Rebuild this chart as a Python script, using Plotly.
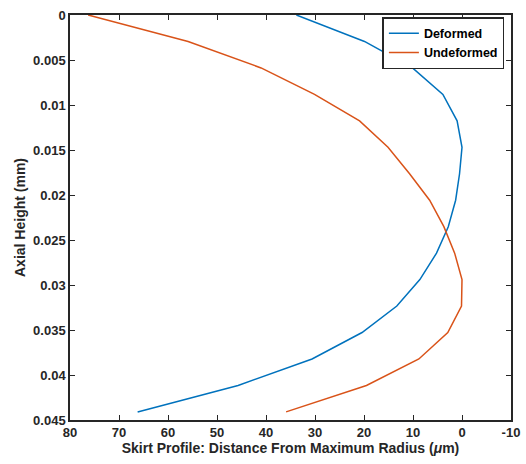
import plotly.graph_objects as go

axial_height = [0.0, 0.00294, 0.00588, 0.00882, 0.01176, 0.0147, 0.01764, 0.02058,
                0.02352, 0.02646, 0.0294, 0.03234, 0.03528, 0.03822, 0.04116, 0.0441]
deformed = [33.8, 19.9, 10.1, 3.9, 1.0, 0.0, 0.5, 1.3,
            2.8, 5.2, 8.6, 13.3, 20.4, 30.6, 45.7, 66.2]
undeformed = [76.3, 55.9, 41.0, 30.1, 20.9, 15.1, 10.7, 6.6,
              3.7, 1.5, 0.0, 0.1, 2.9, 8.8, 19.5, 35.9]

x_ticks = [80, 70, 60, 50, 40, 30, 20, 10, 0, -10]
y_ticks = [0, 0.005, 0.01, 0.015, 0.02, 0.025, 0.03, 0.035, 0.04, 0.045]
y_tick_text = ["0", "0.005", "0.01", "0.015", "0.02", "0.025", "0.03", "0.035", "0.04", "0.045"]

fig = go.Figure()
fig.add_trace(go.Scatter(x=deformed, y=axial_height, mode="lines", name="Deformed",
                         line=dict(color="#0072BD", width=1.5)))
fig.add_trace(go.Scatter(x=undeformed, y=axial_height, mode="lines", name="Undeformed",
                         line=dict(color="#D95319", width=1.5)))

axis_common = dict(
    showline=True, linecolor="#262626", linewidth=1.5, mirror="ticks",
    ticks="inside", ticklen=5, tickwidth=1.2, tickcolor="#262626",
    showgrid=False, zeroline=False, automargin=False,
    tickfont=dict(family="Liberation Sans, Arial", size=13, color="#262626", weight="bold"),
)

fig.update_layout(
    width=526, height=464,
    margin=dict(l=70, r=15, t=15, b=44),
    plot_bgcolor="white", paper_bgcolor="white",
    xaxis=dict(range=[80, -10], tickvals=x_ticks, ticktext=[str(v) for v in x_ticks],
               title=dict(text="Skirt Profile: Distance From Maximum Radius (<i>μ</i>m)",
                          font=dict(family="Liberation Sans, Arial", size=14, color="#262626", weight="bold"),
                          standoff=2),
               **axis_common),
    yaxis=dict(range=[0.045, 0], tickvals=y_ticks, ticktext=y_tick_text,
               title=dict(text="Axial Height (mm)",
                          font=dict(family="Liberation Sans, Arial", size=14, color="#262626", weight="bold"),
                          standoff=4),
               **axis_common),
    legend=dict(x=0.985, y=0.995, xanchor="right", yanchor="top",
                bgcolor="white", bordercolor="#262626", borderwidth=1.5,
                font=dict(family="Liberation Sans, Arial", size=12.5, color="black", weight="bold"),
                tracegroupgap=0, itemwidth=30),
    showlegend=True,
)

fig.write_html("out.html")
